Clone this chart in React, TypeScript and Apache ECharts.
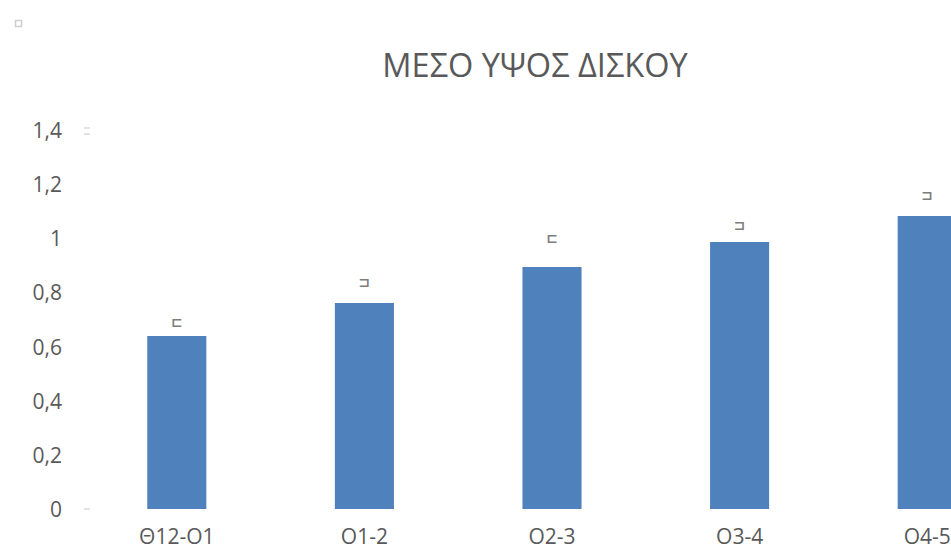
import React, { useEffect, useRef } from "react";
import * as echarts from "echarts";

const categories = ["Θ12-Ο1", "Ο1-2", "Ο2-3", "Ο3-4", "Ο4-5"];
const meanHeight = [0.639, 0.761, 0.894, 0.986, 1.082];
const markerLevel = [0.69, 0.84, 1.0, 1.05, 1.16];
const markerText = ["⊏", "⊐", "⊏", "⊐", "⊐"];
const yTicks = { min: 0, max: 1.4, interval: 0.2 };
const title = "ΜΕΣΟ ΥΨΟΣ ΔΙΣΚΟΥ";

const fmt = (v: number) => String(Math.round(v * 10) / 10).replace(".", ",");

export default function App() {
  const ref = useRef<HTMLDivElement>(null);
  useEffect(() => {
    if (!ref.current) return;
    const chart = echarts.init(ref.current, null, { renderer: "svg" });
    const font = "'Open Sans', 'Noto Sans', sans-serif";
    chart.setOption({
      animation: false,
      backgroundColor: "#ffffff",
      textStyle: { fontFamily: font },
      title: {
        text: title,
        left: "center",
        top: 43,
        textStyle: { fontSize: 32.5, fontWeight: "normal", color: "#595959", fontFamily: font },
      },
      grid: { left: 83, right: 49, top: 130, bottom: 38, containLabel: false },
      xAxis: {
        type: "category",
        data: categories,
        axisLine: { show: false },
        axisTick: { show: false },
        axisLabel: { color: "#595959", fontSize: 21, lineHeight: 20, margin: 17, fontFamily: font },
      },
      yAxis: {
        type: "value",
        min: yTicks.min,
        max: yTicks.max,
        interval: yTicks.interval,
        axisLine: { show: false },
        axisTick: { show: false },
        splitLine: { show: false },
        axisLabel: { color: "#595959", fontSize: 21, margin: 21, formatter: fmt, fontFamily: font },
      },
      series: [
        {
          type: "bar",
          data: meanHeight,
          barWidth: "31.5%",
          itemStyle: { color: "#4F81BD" },
        },
        {
          type: "scatter",
          data: markerLevel,
          symbolSize: 0,
          silent: true,
          label: {
            show: true,
            position: "inside",
            formatter: (p: any) => markerText[p.dataIndex],
            color: "#595959",
            fontSize: 14,
            fontWeight: "bold",
            fontFamily: "'DejaVu Sans', sans-serif",
          },
        },
      ],
      graphic: [
        {
          type: "rect",
          left: 13,
          top: 18,
          shape: { width: 6, height: 6 },
          style: { fill: "none", stroke: "#d0d0d0", lineWidth: 1.5 },
        },
        { type: "line", shape: { x1: 84, y1: 128, x2: 90, y2: 128 }, style: { stroke: "#d9d9d9", lineWidth: 1.5 } },
        { type: "line", shape: { x1: 84, y1: 134, x2: 90, y2: 134 }, style: { stroke: "#d9d9d9", lineWidth: 1.5 } },
        { type: "line", shape: { x1: 84, y1: 509, x2: 90, y2: 509 }, style: { stroke: "#d9d9d9", lineWidth: 1.5 } },
      ],
    });
    return () => chart.dispose();
  }, []);
  return (
    <div style={{ position: "fixed", left: 0, top: 0, width: 951, height: 547, overflow: "hidden", background: "#fff" }}>
      <div ref={ref} style={{ width: 1070, height: 547 }} />
    </div>
  );
}
